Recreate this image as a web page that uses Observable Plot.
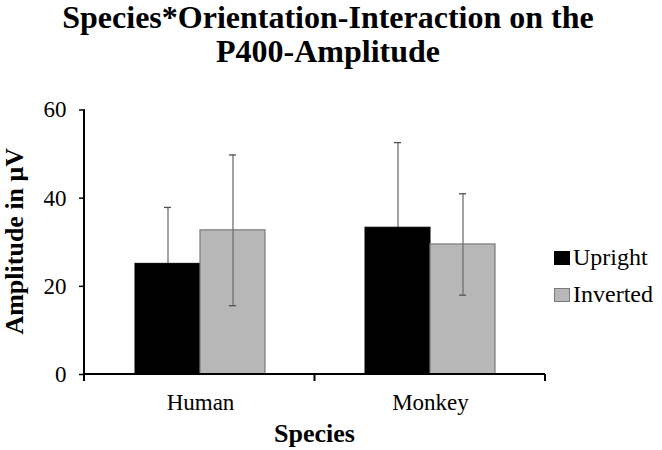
<!DOCTYPE html>
<html>
<head>
<meta charset="utf-8">
<script src="https://cdn.jsdelivr.net/npm/d3@7"></script>
<script src="https://cdn.jsdelivr.net/npm/@observablehq/plot@0.6"></script>
<style>
  body { margin: 0; background: #fff; }
  #wrap { position: relative; width: 662px; height: 450px; overflow: hidden; background: #fff;
          font-family: "Liberation Serif", "Times New Roman", serif; color: #000; }
  #title { position: absolute; left: 0; top: 0; width: 656px; text-align: center;
           font-size: 32px; font-weight: bold; line-height: 34px; }
  #chart { position: absolute; left: 0; top: 80px; }
  .lg { position: absolute; font-size: 24px; line-height: 24px; white-space: nowrap; }
  .sw { position: absolute; width: 14px; height: 12px; }
</style>
</head>
<body>
<div id="wrap">
  <div id="title">Species*Orientation-Interaction on the<br>P400-Amplitude</div>
  <div id="chart"></div>
  <div id="legend"></div>
</div>
<script>
const species = ["Human", "Monkey"];
const orientations = ["Upright", "Inverted"];
const uprightMean = [25.1, 33.3];
const uprightErr = [12.8, 19.3];
const invertedMean = [32.7, 29.5];
const invertedErr = [17.1, 11.5];
const yTicks = [0, 20, 40, 60];
const fills = ["#000000", "#b7b7b7"];
const outlines = ["#000000", "#7a7a7a"];

const data = species.flatMap((s, i) => [
  {species: s, orientation: orientations[0], mean: uprightMean[i], err: uprightErr[i]},
  {species: s, orientation: orientations[1], mean: invertedMean[i], err: invertedErr[i]}
]);
const byO = o => data.filter(d => d.orientation === o);

const errRule = rows => Plot.ruleX(rows, {fx: "species", x: "orientation", y1: d => d.mean - d.err, y2: d => d.mean + d.err, stroke: "#707070", strokeWidth: 1.3});
const errCap = (rows, key) => Plot.tickY(rows, {fx: "species", x: "orientation", y: key, stroke: "#505050", strokeWidth: 1.3, insetLeft: 29, insetRight: 29});

const W = 662, H = 370, ML = 84, MR = 117, MT = 29.5, MB = 76;

const plot = Plot.plot({
  width: W,
  height: H,
  marginTop: MT,
  marginBottom: MB,
  marginLeft: ML,
  marginRight: MR,
  style: {fontFamily: '"Liberation Serif", "Times New Roman", serif', background: "transparent", color: "#000", overflow: "visible"},
  fx: {domain: species, padding: 0, label: null},
  x: {domain: orientations, paddingInner: 0, paddingOuter: 0.746, axis: null},
  y: {domain: [yTicks[0], yTicks[yTicks.length - 1]], label: null},
  marks: [
    Plot.axisY({ticks: yTicks, tickSize: 6, tickPadding: 13, fontSize: 23, tickFormat: d => String(d), label: null, strokeWidth: 1.5}),
    Plot.axisFx({anchor: "bottom", tickSize: 0, tickPadding: 19, fontSize: 23, label: null}),
    errRule(byO(orientations[0])),
    Plot.barY(byO(orientations[0]), {fx: "species", x: "orientation", y: "mean", fill: fills[0], stroke: outlines[0], strokeWidth: 1}),
    Plot.barY(byO(orientations[1]), {fx: "species", x: "orientation", y: "mean", fill: fills[1], stroke: outlines[1], strokeWidth: 1.2}),
    errRule(byO(orientations[1])),
    errCap(data, d => d.mean + d.err),
    errCap(byO(orientations[1]), d => d.mean - d.err)
  ]
});

// axis lines, category boundary ticks and axis titles, placed from the plot's own y scale
const ys = plot.scale("y");
const y0 = ys.apply(yTicks[0]), yTop = ys.apply(yTicks[yTicks.length - 1]);
const left = ML, right = W - MR;
const g = d3.select(plot).append("g").attr("fill", "none").attr("stroke", "#000");
g.append("line").attr("x1", left).attr("x2", left).attr("y1", yTop).attr("y2", y0).attr("stroke-width", 2);
g.append("line").attr("x1", left).attr("x2", right).attr("y1", y0).attr("y2", y0).attr("stroke-width", 2);
for (let i = 0; i <= species.length; i++) {
  const xx = left + i * (right - left) / species.length;
  g.append("line").attr("x1", xx).attr("x2", xx).attr("y1", y0).attr("y2", y0 + 7).attr("stroke-width", 2);
}
const t = g.append("g").attr("stroke", "none").attr("fill", "#000")
  .attr("font-family", '"Liberation Serif", "Times New Roman", serif').attr("font-weight", "bold").attr("font-size", 26);
const cy = (y0 + yTop) / 2 - 0.5;
t.append("text").attr("x", 23).attr("y", cy).attr("text-anchor", "middle")
  .attr("transform", `rotate(-90, 23, ${cy})`).text("Amplitude in \u03bcV");
t.append("text").attr("x", (left + right) / 2).attr("y", 362).attr("text-anchor", "middle").text("Species");

document.getElementById("chart").appendChild(plot);

const legend = document.getElementById("legend");
const lgTops = [245, 282];
orientations.forEach((o, i) => {
  const sw = document.createElement("div");
  sw.className = "sw";
  sw.style.left = "554px";
  sw.style.top = (lgTops[i] + 6) + "px";
  sw.style.background = fills[i];
  sw.style.border = "1px solid " + outlines[i];
  legend.appendChild(sw);
  const tx = document.createElement("div");
  tx.className = "lg";
  tx.style.left = "573px";
  tx.style.top = lgTops[i] + "px";
  tx.textContent = o;
  legend.appendChild(tx);
});
</script>
</body>
</html>
